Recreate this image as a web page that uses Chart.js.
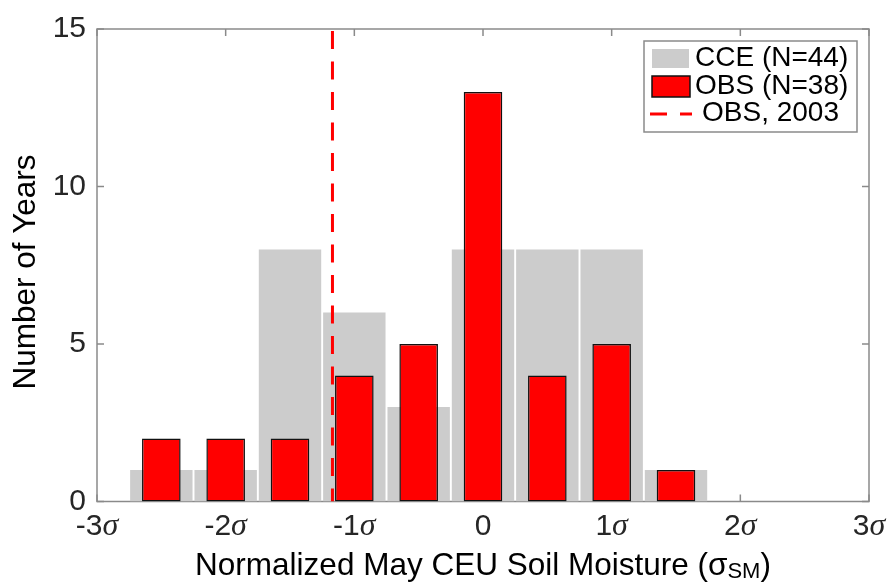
<!DOCTYPE html>
<html lang="en">
<head>
<meta charset="UTF-8">
<title>CEU soil moisture histogram</title>
<script src="https://cdn.jsdelivr.net/npm/chart.js"></script>
<style>
  body { margin: 0; background: #fff; }
</style>
</head>
<body>
<canvas id="histChart" width="889" height="588"></canvas>
<script>
  // bin centres in units of sigma
  const binCenters = [-3, -2.5, -2, -1.5, -1, -0.5, 0, 0.5, 1, 1.5, 2, 2.5, 3];
  const cceCounts = [0, 1, 1, 8, 6, 3, 8, 8, 8, 1, 0, 0, 0];
  const obsCounts = [0, 2, 2, 2, 4, 5, 13, 4, 5, 1, 0, 0, 0];
  const obs2003 = -1.17;
  const xTickValues = [-3, -2, -1, 0, 1, 2, 3];
  const xTickLabels = ['-3', '-2', '-1', '0', '1', '2', '3'];
  const yTickValues = [0, 5, 10, 15];
  const legendLabels = ['CCE (N=44)', 'OBS (N=38)', 'OBS, 2003'];

  const SANS = '"Liberation Sans", Arial, sans-serif';
  const FRAME = '#8a8a8a';

  const decorations = {
    id: 'decorations',
    beforeDatasetsDraw(chart) {
      const { ctx, chartArea: a, scales: { x, y } } = chart;
      ctx.save();
      ctx.strokeStyle = FRAME;
      ctx.lineWidth = 1.5;
      ctx.strokeRect(a.left, a.top, a.right - a.left, a.bottom - a.top);
      ctx.beginPath();
      xTickValues.forEach(v => {
        const px = x.getPixelForValue(v);
        ctx.moveTo(px, a.bottom); ctx.lineTo(px, a.bottom - 7);
        ctx.moveTo(px, a.top); ctx.lineTo(px, a.top + 7);
      });
      yTickValues.forEach(v => {
        const py = y.getPixelForValue(v);
        ctx.moveTo(a.left, py); ctx.lineTo(a.left + 7, py);
        ctx.moveTo(a.right, py); ctx.lineTo(a.right - 7, py);
      });
      ctx.stroke();
      ctx.restore();
    },
    afterDraw(chart) {
      const { ctx, chartArea: a, scales: { x } } = chart;
      ctx.save();

      // x tick labels with italic sigma
      ctx.fillStyle = '#262626';
      ctx.textBaseline = 'alphabetic';
      ctx.textAlign = 'left';
      xTickValues.forEach((v, i) => {
        const num = xTickLabels[i];
        const px = x.getPixelForValue(v);
        ctx.font = '30px ' + SANS;
        const wn = ctx.measureText(num).width;
        let ws = 0;
        if (v !== 0) {
          ctx.font = 'italic 32px "Liberation Serif", serif';
          ws = ctx.measureText('σ').width;
        }
        const start = px - (wn + ws) / 2;
        ctx.font = '30px ' + SANS;
        ctx.fillText(num, start, 535);
        if (v !== 0) {
          ctx.font = 'italic 32px "Liberation Serif", serif';
          ctx.fillText('σ', start + wn, 535);
        }
      });

      // x title with subscript
      ctx.fillStyle = '#000';
      const main = 'Normalized May CEU Soil Moisture (σ';
      ctx.font = '31.5px ' + SANS;
      const w1 = ctx.measureText(main).width;
      const w3 = ctx.measureText(')').width;
      ctx.font = '22px ' + SANS;
      const w2 = ctx.measureText('SM').width;
      let tx = (a.left + a.right) / 2 - (w1 + w2 + w3) / 2;
      ctx.font = '31.5px ' + SANS;
      ctx.fillText(main, tx, 575);
      ctx.font = '22px ' + SANS;
      ctx.fillText('SM', tx + w1, 578);
      ctx.font = '31.5px ' + SANS;
      ctx.fillText(')', tx + w1 + w2, 575);

      // y title
      ctx.save();
      ctx.translate(35, 272);
      ctx.rotate(-Math.PI / 2);
      ctx.textAlign = 'center';
      ctx.fillText('Number of Years', 0, 0);
      ctx.restore();

      // legend box
      const lx = a.right - 225, ly = a.top + 12, lw = 213, lh = 91;
      ctx.fillStyle = '#fff';
      ctx.fillRect(lx, ly, lw, lh);
      ctx.strokeStyle = FRAME;
      ctx.lineWidth = 1.5;
      ctx.strokeRect(lx, ly, lw, lh);

      ctx.fillStyle = '#cccccc';
      ctx.fillRect(lx + 8, ly + 8, 37, 19);
      ctx.fillStyle = '#ff0000';
      ctx.fillRect(lx + 8, ly + 35, 38, 21);
      ctx.strokeStyle = '#111';
      ctx.lineWidth = 1.5;
      ctx.strokeRect(lx + 8, ly + 35, 38, 21);
      ctx.strokeStyle = '#ff0000';
      ctx.lineWidth = 3;
      ctx.setLineDash([17, 13]);
      ctx.beginPath();
      ctx.moveTo(lx + 6, ly + 73);
      ctx.lineTo(lx + 48, ly + 73);
      ctx.stroke();
      ctx.setLineDash([]);

      ctx.fillStyle = '#000';
      ctx.font = '28px ' + SANS;
      ctx.textBaseline = 'middle';
      ctx.fillText(legendLabels[0], lx + 51, ly + 17);
      ctx.fillText(legendLabels[1], lx + 51, ly + 45);
      ctx.fillText(legendLabels[2], lx + 58, ly + 72);
      ctx.restore();
    }
  };

  new Chart(document.getElementById('histChart'), {
    data: {
      datasets: [{
        type: 'bar',
        label: legendLabels[0],
        data: binCenters.map((c, i) => ({ x: c, y: cceCounts[i] })),
        backgroundColor: '#cccccc',
        borderWidth: 0,
        grouped: false,
        categoryPercentage: 1,
        barPercentage: 0.97,
        order: 3
      }, {
        type: 'bar',
        label: legendLabels[1],
        data: binCenters.map((c, i) => ({ x: c, y: obsCounts[i] })),
        backgroundColor: '#ff0000',
        borderColor: '#111111',
        borderWidth: 1.5,
        borderSkipped: false,
        grouped: false,
        categoryPercentage: 1,
        barPercentage: 0.6,
        order: 2
      }, {
        type: 'line',
        label: legendLabels[2],
        data: [{ x: obs2003, y: 0 }, { x: obs2003, y: 15 }],
        borderColor: '#ff0000',
        borderWidth: 3,
        borderDash: [18, 12.5],
        borderDashOffset: 5,
        pointRadius: 0,
        order: 1
      }]
    },
    options: {
      responsive: false,
      animation: false,
      layout: { padding: { left: 0, right: 20, top: 25, bottom: 0 } },
      plugins: { legend: { display: false }, tooltip: { enabled: false } },
      scales: {
        x: {
          type: 'linear',
          offset: false,
          min: -3,
          max: 3,
          ticks: { display: false, stepSize: 1 },
          grid: { display: false, drawTicks: false },
          border: { display: false },
          afterFit: s => { s.height = 86.5; }
        },
        y: {
          min: 0,
          max: 15,
          ticks: {
            stepSize: 5,
            padding: 11,
            color: '#262626',
            font: { family: SANS, size: 30 }
          },
          grid: { display: false, drawTicks: false },
          border: { display: false },
          afterFit: s => { s.width = 97; }
        }
      }
    },
    plugins: [decorations]
  });
</script>
</body>
</html>
